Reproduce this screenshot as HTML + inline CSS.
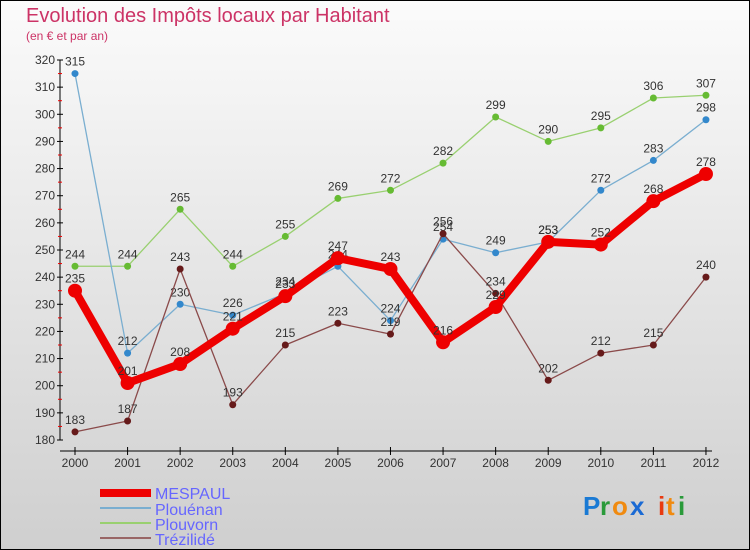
<!DOCTYPE html>
<html><head><meta charset="utf-8"><style>
body{margin:0}
#c{width:750px;height:550px;position:relative;overflow:hidden}
text{font-family:"Liberation Sans",sans-serif}
</style></head><body>
<div id="c">
<svg id="s" width="750" height="550" xmlns="http://www.w3.org/2000/svg">
<defs><linearGradient id="bg" x1="0" y1="0" x2="0" y2="1"><stop offset="0" stop-color="#fbfbfb"/><stop offset="1" stop-color="#cfcfcf"/></linearGradient></defs>
<rect x="0.5" y="0.5" width="749" height="549" fill="url(#bg)" stroke="#000"/>
<text x="26" y="22" font-size="20" fill="#cc3366">Evolution des Impôts locaux par Habitant</text>
<text x="26" y="40" font-size="12" fill="#cc3366">(en € et par an)</text>
<g id="axes"></g><g id="series"></g>
<g>
<rect x="100" y="489" width="51" height="8" fill="#e00"/>
<text x="155" y="499" font-size="16" fill="#6666ff">MESPAUL</text>
<rect x="100" y="507" width="51" height="2" fill="#7aaed0"/>
<text x="155" y="515" font-size="16" fill="#6666ff">Plouénan</text>
<rect x="100" y="522" width="51" height="2" fill="#99d070"/>
<text x="155" y="530" font-size="16" fill="#6666ff">Plouvorn</text>
<rect x="100" y="537" width="51" height="2" fill="#996666"/>
<text x="155" y="545" font-size="16" fill="#6666ff">Trézilidé</text>
</g>
<g font-size="26" font-weight="bold">
<text x="583" y="515" fill="#1a7ad4">P</text><text x="600" y="515" fill="#2a9a3a">r</text><text x="612" y="515" fill="#f08a10">o</text><text x="630" y="515" fill="#1a6ad4">x</text><text x="658" y="515" fill="#e83a10">i</text><text x="666" y="515" fill="#f08a10">t</text><text x="678" y="515" fill="#2a9a3a">i</text>
</g>
</svg></div>
<script>
const years=["2000","2001","2002","2003","2004","2005","2006","2007","2008","2009","2010","2011","2012"];
const yTicks=[180,190,200,210,220,230,240,250,260,270,280,290,300,310,320];
const mespaul=[235,201,208,221,233,247,243,216,229,253,252,268,278];
const plouenan=[315,212,230,226,234,244,224,254,249,253,272,283,298];
const plouvorn=[244,244,265,244,255,269,272,282,299,290,295,306,307];
const trezilide=[183,187,243,193,215,223,219,256,234,202,212,215,240];
const NS="http://www.w3.org/2000/svg";
const x=i=>75+i*52.58, y=v=>440-(v-180)*380/140;
function mk(t,a,p){const e=document.createElementNS(NS,t);for(const k in a)e.setAttribute(k,a[k]);p.appendChild(e);return e;}
const ax=document.getElementById('axes'),sg=document.getElementById('series');
let l=mk('line',{x1:60,y1:60,x2:60,y2:440,stroke:'#000'},ax);


l=mk('line',{x1:60,y1:451,x2:712,y2:451,stroke:'#000'},ax);


yTicks.forEach(v=>{mk('line',{x1:57,y1:y(v),x2:63,y2:y(v),stroke:'#000'},ax);
 if(v<320)mk('line',{x1:58,y1:y(v+5),x2:62,y2:y(v+5),stroke:'#e00'},ax);
 const t=mk('text',{x:55,y:y(v)+4,'font-size':12,fill:'#333','text-anchor':'end'},ax);t.textContent=v;
 
 });
years.forEach((yr,i)=>{mk('line',{x1:x(i),y1:447,x2:x(i),y2:455,stroke:'#000'},ax);
 const t=mk('text',{x:x(i),y:467,'font-size':12,fill:'#333','text-anchor':'middle'},ax);t.textContent=yr;
 
 });
function draw(d,name,col,dot,w,r){const g=mk('g',{},sg);
 
 
 mk('polyline',{points:d.map((v,i)=>x(i)+','+y(v)).join(' '),fill:'none',stroke:col,'stroke-width':w,'stroke-linejoin':'round'},g);
 d.forEach((v,i)=>{const c=mk('circle',{cx:x(i),cy:y(v),r:r,fill:dot},g);
  
  
  const t=mk('text',{x:x(i),y:y(v)-8,'font-size':12,fill:'#333','text-anchor':'middle'},g);t.textContent=v;});}
draw(plouvorn,'plouvorn','#99d070','#66bb33',1.3,3.5);
draw(plouenan,'plouenan','#7aaed0','#3388cc',1.3,3.5);
draw(trezilide,'trezilide','#8a4a4a','#661a1a',1.3,3.5);
draw(mespaul,'mespaul','#ee0000','#ee0000',8,7);
</script></body></html>
